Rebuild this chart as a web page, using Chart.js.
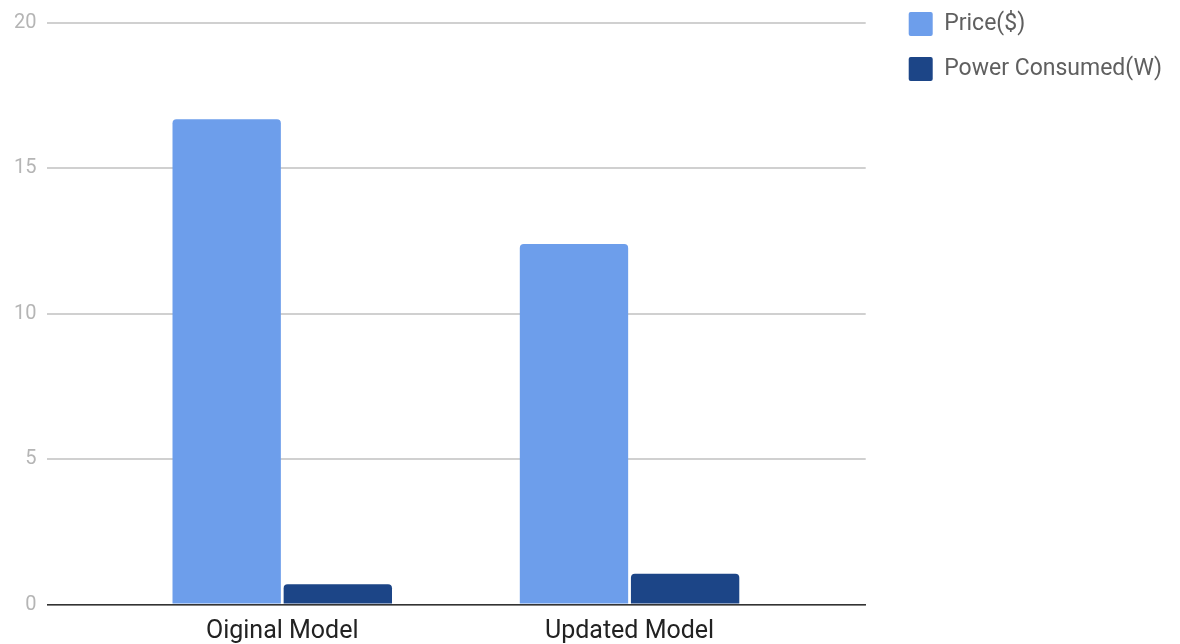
<!DOCTYPE html>
<html>
<head>
<meta charset="utf-8">
<script src="https://cdn.jsdelivr.net/npm/chart.js@4.4.1/dist/chart.umd.min.js"></script>
<style>
html,body{margin:0;padding:0;background:#fff;}
#wrap{width:1180px;height:644px;position:relative;}
</style>
</head>
<body>
<div id="wrap"><canvas id="c"></canvas></div>
<script>
const categories = ['Oiginal Model', 'Updated Model'];
const priceValues = [16.69, 12.40];
const powerValues = [0.70, 1.06];
const yTicks = [0, 5, 10, 15, 20];
const seriesNames = ['Price($)', 'Power Consumed(W)'];

const toPoints = vals => vals.map((v, i) => ({x: i, y: v}));

// shifts the legend block (style offset only)
const legendNudge = {
  id: 'legendNudge',
  afterLayout(chart) {
    const l = chart.legend;
    l.left += 22; l.right += 22;
    l.top -= 19; l.bottom -= 19;
  }
};

new Chart(document.getElementById('c'), {
  type: 'bar',
  data: {
    datasets: [
      {label: seriesNames[0], data: toPoints(priceValues), backgroundColor: '#6d9eeb', borderRadius: {topLeft: 4, topRight: 4}, borderSkipped: 'bottom', categoryPercentage: 0.64, barPercentage: 0.975},
      {label: seriesNames[1], data: toPoints(powerValues), backgroundColor: '#1c4587', borderRadius: {topLeft: 4, topRight: 4}, borderSkipped: 'bottom', categoryPercentage: 0.64, barPercentage: 0.975}
    ]
  },
  plugins: [legendNudge],
  options: {
    responsive: true,
    maintainAspectRatio: false,
    animation: false,
    layout: {padding: {left: 3, top: 10, right: 30, bottom: 0}},
    plugins: {
      tooltip: {enabled: false},
      legend: {
        position: 'right',
        align: 'start',
        labels: {
          boxWidth: 24, boxHeight: 24, padding: 21,
          useBorderRadius: true, borderRadius: 2,
          color: '#5f5f5f',
          font: {family: 'Roboto', size: 23}
        }
      }
    },
    scales: {
      x: {
        type: 'linear',
        min: -0.676, max: 1.68,
        offset: false,
        grid: {display: false, drawTicks: false},
        border: {display: true, color: '#333333', width: 1.5},
        afterBuildTicks: s => { s.ticks = categories.map((_, i) => ({value: i})); },
        afterFit: s => { s.height = 39.5; },
        ticks: {
          autoSkip: false, maxRotation: 0, padding: 12.5,
          color: '#222222',
          font: {family: 'Roboto', size: 25},
          callback: v => categories[v] ?? ''
        }
      },
      y: {
        min: 0, max: 20,
        afterBuildTicks: s => { s.ticks = yTicks.map(v => ({value: v})); },
        grid: {color: '#d0d0d0', lineWidth: 2, drawTicks: false},
        border: {display: false},
        ticks: {padding: 11, color: '#b5b5b5', font: {family: 'Roboto', size: 20}}
      }
    }
  }
});
</script>
</body>
</html>
